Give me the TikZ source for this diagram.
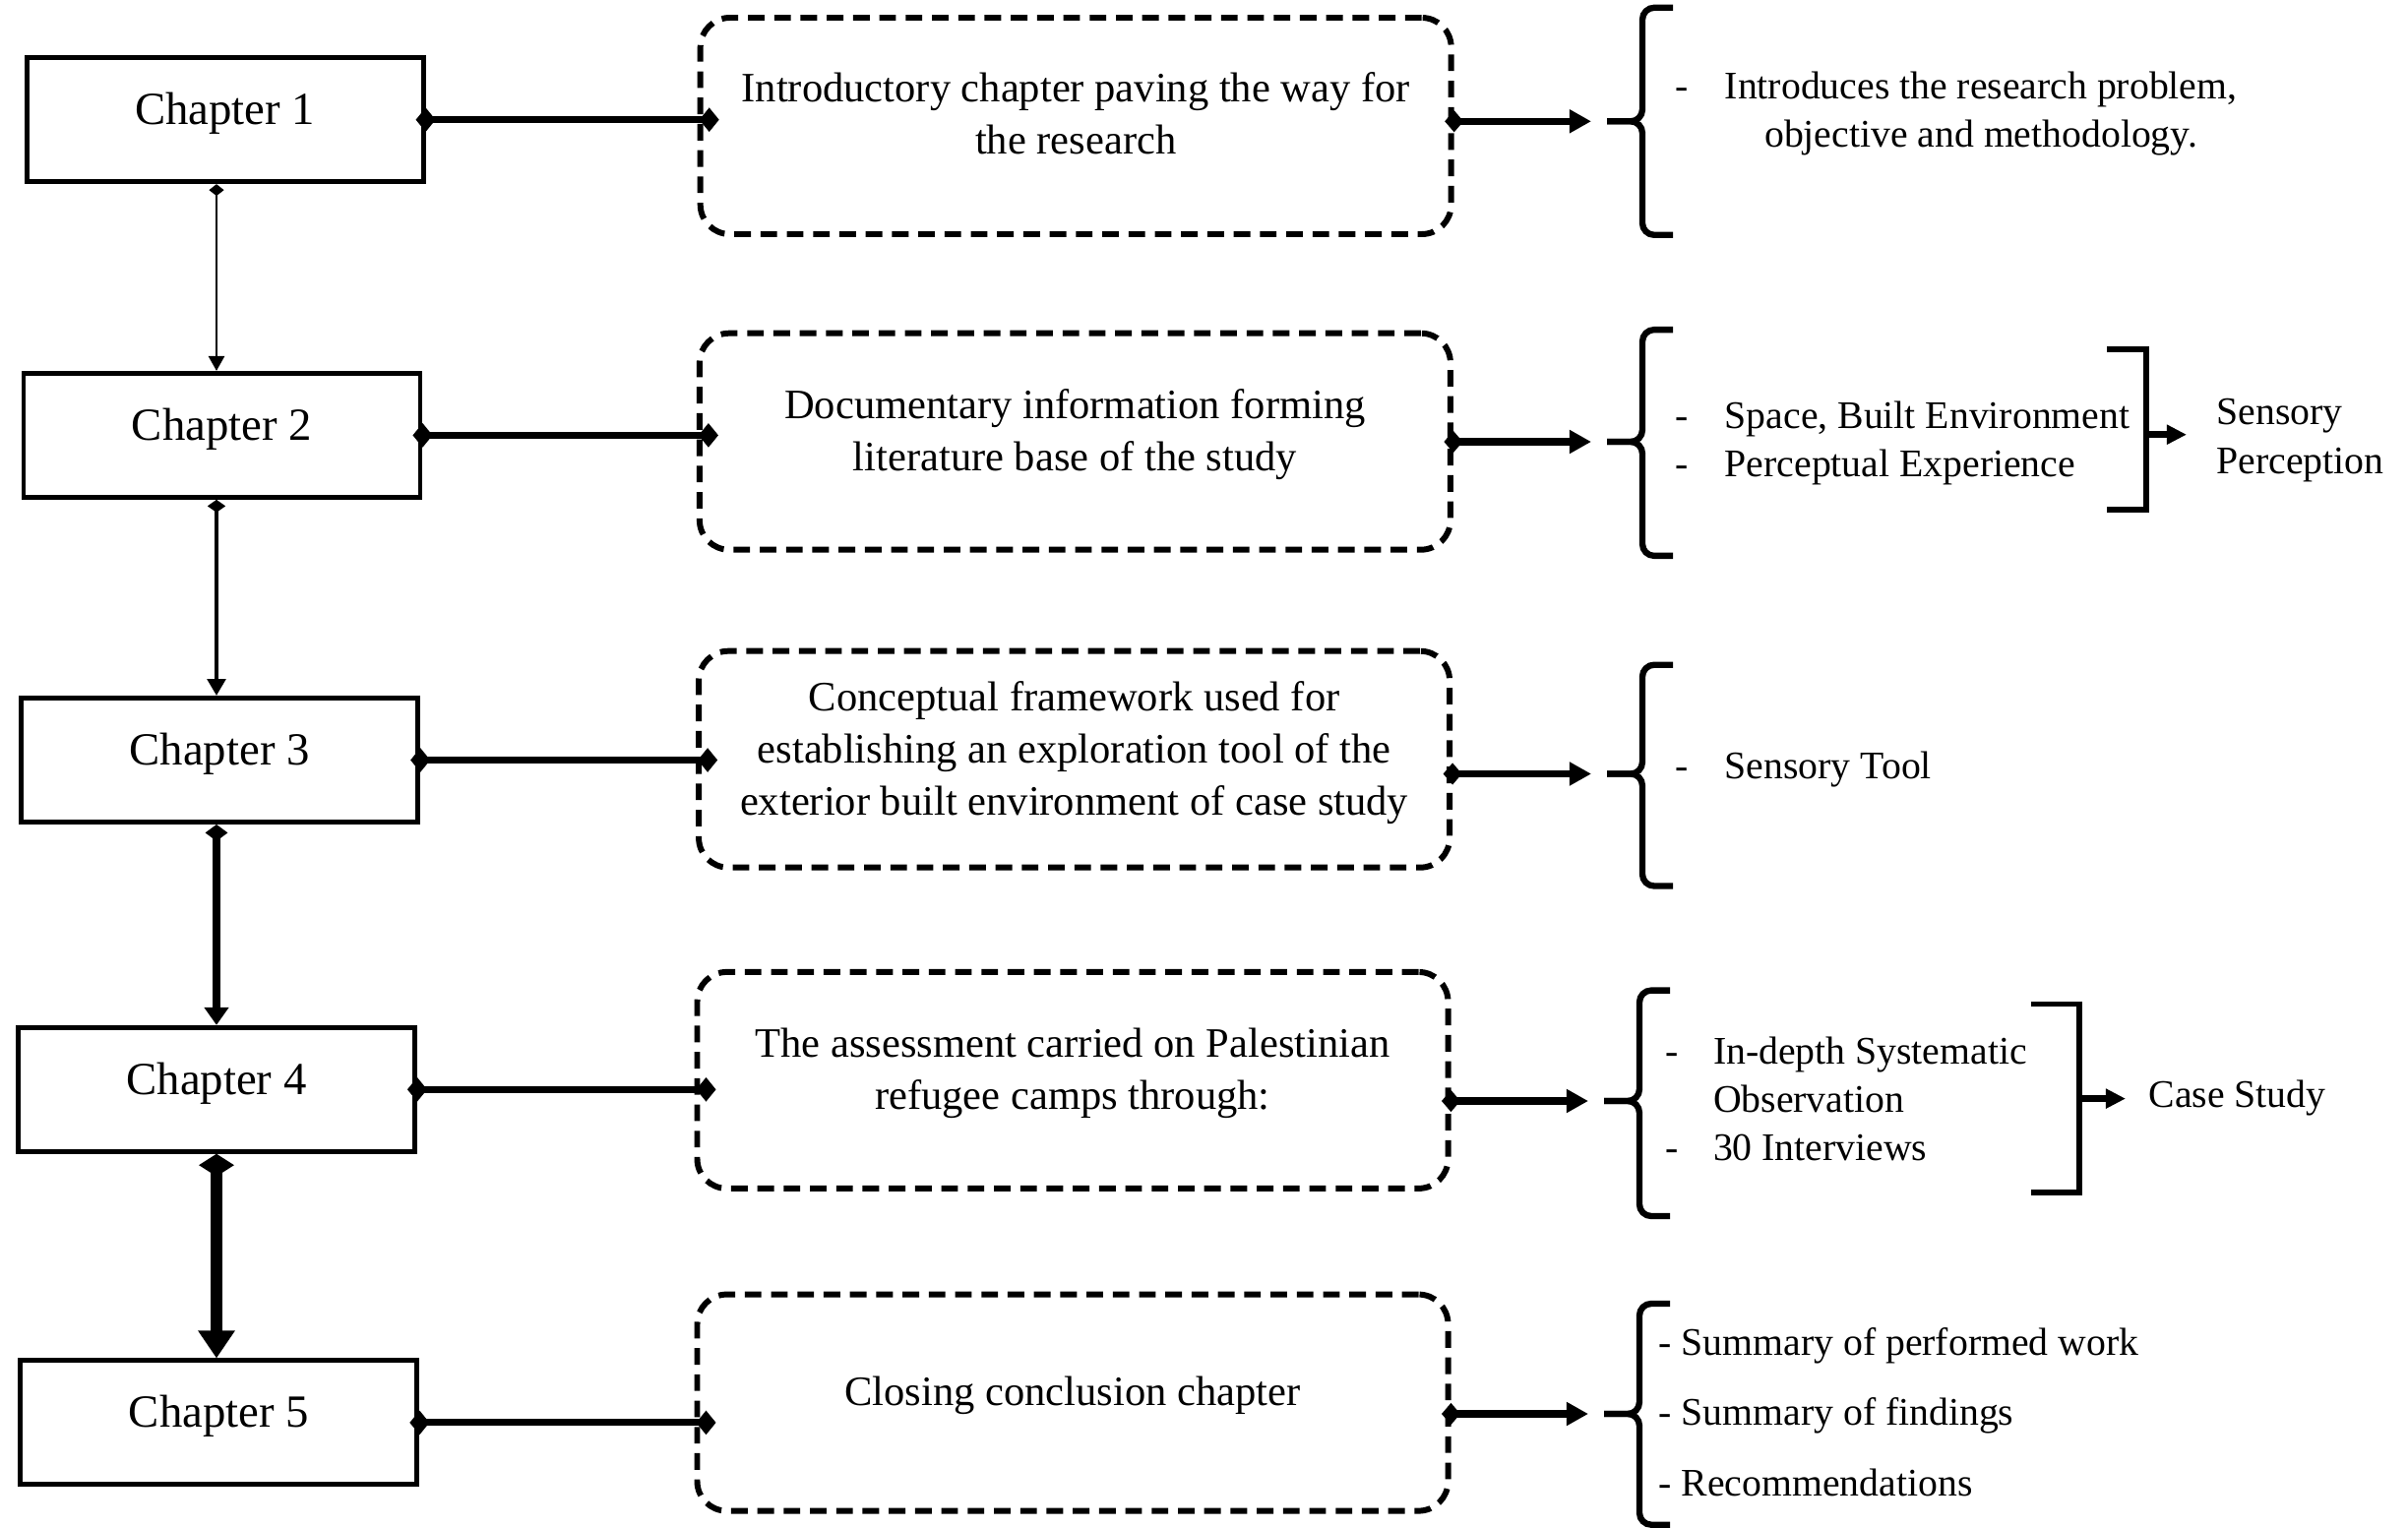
\documentclass[tikz,border=0pt]{standalone}
\usepackage{fontspec}
\setmainfont{Liberation Serif}
\usepackage{tikz}
\usetikzlibrary{arrows.meta,calc,positioning}
\newcommand{\chfont}{\fontsize{13.3}{16}\selectfont}
\newcommand{\boxfont}{\fontsize{12.1}{15.1}\selectfont}
\newcommand{\sidefont}{\fontsize{11.3}{13.9}\selectfont}
\tikzset{
  chapbox/.style={draw=black, line width=1.4pt, minimum width=4.03cm, minimum height=1.26cm, inner sep=0pt, text height=9.1pt, text depth=6.3pt, font=\chfont},
  descbox/.style={draw=black, line width=1.7pt, dash pattern=on 4.8pt off 2.8pt, rounded corners=0.3cm, minimum width=7.63cm, minimum height=2.2cm, inner sep=0pt},
  desctext/.style={align=center, inner sep=0pt, yshift=0.07cm, font=\boxfont},
  sidetext/.style={inner sep=0pt, anchor=west, align=left, font=\sidefont},
  linkarrow/.style={arrows={Diamond[length=5.7pt,width=7pt]-Diamond[length=5.7pt,width=7pt]}, line width=2pt, shorten <=-1mm, shorten >=-2.2mm},
  outarrow/.style={arrows={Diamond[length=5.4pt,width=6.3pt]-Triangle[length=6.3pt,width=6.5pt]}, line width=2pt, shorten <=-0.95mm, shorten >=1.6mm},
  vlink/.style n args={5}{arrows={Diamond[length=#2,width=#3]-Triangle[length=#4,width=#5]}, line width=#1},
  sidearrow/.style={arrows={-Triangle[length=5.7pt,width=5.4pt]}, line width=2pt},
  brk/.style={line width=1.8pt, rounded corners=0.12cm},
  sqbrk/.style={line width=1.6pt},
  pics/lbrace/.style 2 args={code={
    \draw[brk] (0.67,#1) -- (0.36,#1) -- (0.36,0) -- (0,0);
    \draw[brk] (0.67,-#2) -- (0.36,-#2) -- (0.36,0) -- (0,0);
  }},
  pics/rbrack/.style n args={3}{code={
    \draw[sqbrk] (-#1,#2) -| (0,-#3) -- (-#1,-#3);
  }}
}
\begin{document}
\begin{tikzpicture}[x=1cm,y=1cm]
  \useasboundingbox (0,0) rectangle (24.47,-15.53);

  % chapters
  \node[chapbox] (ch1) at (2.286,-1.217) {Chapter 1};
  \node[chapbox] (ch2) at (2.255,-4.424) {Chapter 2};
  \node[chapbox] (ch3) at (2.232,-7.725) {Chapter 3};
  \node[chapbox] (ch4) at (2.200,-11.073) {Chapter 4};
  \node[chapbox] (ch5) at (2.224,-14.459) {Chapter 5};
  \coordinate (spine) at (2.20,0);

  % descriptions
  \node[descbox, label={[desctext, yshift=0.06cm]center:{Introductory chapter paving the way for\\the research}}] (d1) at (10.932,-1.280) {};
  \node[descbox, label={[desctext]center:{Documentary information forming\\literature base of the study}}] (d2) at (10.924,-4.487) {};
  \node[descbox, label={[desctext]center:{Conceptual framework used for\\establishing an exploration tool of the\\exterior built environment of case study}}] (d3) at (10.916,-7.717) {};
  \node[descbox, label={[desctext]center:{The assessment carried on Palestinian\\refugee camps through:}}] (d4) at (10.900,-10.979) {};
  \node[descbox, label={[desctext]center:{Closing conclusion chapter}}] (d5) at (10.900,-14.256) {};

  % braces
  \coordinate (br1) at (16.33,-1.233);
  \coordinate (br2) at (16.33,-4.49);
  \coordinate (br3) at (16.33,-7.865);
  \coordinate (br4) at (16.30,-11.19);
  \coordinate (br5) at (16.30,-14.37);
  \pic at (br1) {lbrace={1.155}{1.155}};
  \pic at (br2) {lbrace={1.139}{1.159}};
  \pic at (br3) {lbrace={1.108}{1.14}};
  \pic at (br4) {lbrace={1.124}{1.17}};
  \pic at (br5) {lbrace={1.12}{1.127}};

  % brace contents
  \node[sidetext] (it1) at (17.02,-1.15) {\begin{tabular}{@{}l@{\hspace{10.5pt}}c@{}}-&Introduces the research problem,\\&objective and methodology.\end{tabular}};
  \node[sidetext] (it2) at (17.02,-4.50) {\begin{tabular}{@{}l@{\hspace{10.5pt}}l@{}}-&Space, Built Environment\\-&Perceptual Experience\end{tabular}};
  \node[sidetext] (it3) at (17.02,-7.82) {\begin{tabular}{@{}l@{\hspace{10.5pt}}l@{}}-&Sensory Tool\end{tabular}};
  \node[sidetext] (it4) at (16.92,-11.21) {\begin{tabular}{@{}l@{\hspace{10pt}}l@{}}-&In-depth Systematic\\&Observation\\-&30 Interviews\end{tabular}};
  \node[sidetext, font=\fontsize{11.3}{20.4}\selectfont] (it5) at (16.85,-14.35) {- Summary of performed work\\- Summary of findings\\- Recommendations};

  % right brackets
  \coordinate (rb2) at (21.81,-4.417);
  \coordinate (rb4) at (21.13,-11.166);
  \pic at (rb2) {rbrack={0.40}{0.867}{0.764}};
  \pic at (rb4) {rbrack={0.49}{0.96}{0.951}};
  \node[sidetext, font=\fontsize{11.3}{14.2}\selectfont] (sens) at (22.52,-4.48) {Sensory\\Perception};
  \node[sidetext] (cs) at (21.83,-11.16) {Case Study};

  % chapter to description
  \draw[linkarrow] (ch1.east) -- (ch1.east -| d1.west);
  \draw[linkarrow] (ch2.east) -- (ch2.east -| d2.west);
  \draw[linkarrow] (ch3.east) -- (ch3.east -| d3.west);
  \draw[linkarrow] (ch4.east) -- (ch4.east -| d4.west);
  \draw[linkarrow] (ch5.east) -- (ch5.east -| d5.west);

  % chapter sequence
  \draw[vlink={0.7pt}{3.4pt}{4.3pt}{4.3pt}{4.6pt}] (ch1.south -| spine) -- (ch2.north -| spine);
  \draw[vlink={1.4pt}{3.7pt}{5.2pt}{4.8pt}{5.2pt}] (ch2.south -| spine) -- (ch3.north -| spine);
  \draw[vlink={2.2pt}{4.8pt}{6.5pt}{5.1pt}{6.8pt}] (ch3.south -| spine) -- (ch4.north -| spine);
  \draw[vlink={3.5pt}{6.5pt}{10.2pt}{8pt}{10.2pt}] (ch4.south -| spine) -- (ch5.north -| spine);

  % description to brace
  \draw[outarrow] (d1.east |- br1) -- (br1);
  \draw[outarrow] (d2.east |- br2) -- (br2);
  \draw[outarrow] (d3.east |- br3) -- (br3);
  \draw[outarrow] (d4.east |- br4) -- (br4);
  \draw[outarrow] (d5.east |- br5) -- (br5);

  % bracket to summary
  \draw[sidearrow, shorten >=3mm] (rb2) -- (rb2 -| sens.west);
  \draw[sidearrow, shorten >=2.3mm] (rb4) -- (rb4 -| cs.west);

\end{tikzpicture}
\end{document}
